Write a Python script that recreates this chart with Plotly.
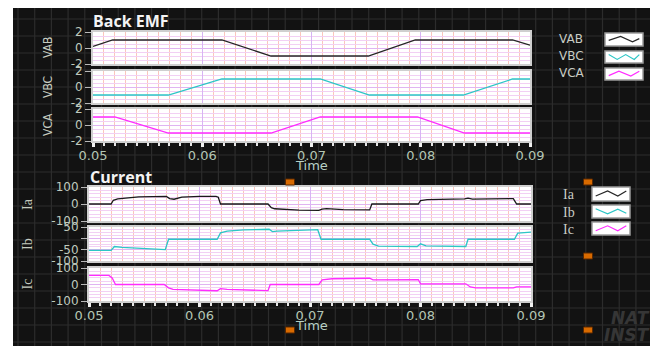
import plotly.graph_objects as go

W, H = 658, 346

# ---------------- data ----------------
t_vab = [0.05, 0.0518, 0.0618, 0.0663, 0.0752, 0.0795, 0.0884, 0.09]
v_vab = [0.2, 1, 1, -1, -1, 1, 1, 0.35]

t_vbc = [0.05, 0.0569, 0.0618, 0.0708, 0.0753, 0.0839, 0.0884, 0.09]
v_vbc = [-1, -1, 1, 1, -1, -1, 1, 1]

t_vca = [0.05, 0.0520, 0.0569, 0.0663, 0.0708, 0.0797, 0.0840, 0.09]
v_vca = [1, 1, -1, -1, 1, 1, -1, -1]

t_ia = [0.05, 0.0520, 0.0522, 0.0526, 0.0545, 0.0565, 0.0570, 0.0573, 0.0577, 0.0584,
        0.0600, 0.0615, 0.0617, 0.0619, 0.0662, 0.0665, 0.0668, 0.0690, 0.0708, 0.0711,
        0.0715, 0.0730, 0.0754, 0.0756, 0.0798, 0.0800, 0.0806, 0.0840, 0.0843, 0.0847,
        0.0884, 0.0887, 0.09]
v_ia = [0, 0, 22, 30, 42, 46, 45, 32, 28, 40,
        45, 45, 40, 0, 0, -22, -28, -36, -38, -30,
        -27, -33, -35, 0, 0, 20, 26, 30, 34, 29,
        32, 0, 0]

t_ib = [0.05, 0.0520, 0.0523, 0.0530, 0.0569, 0.0572, 0.0616, 0.0619, 0.0625, 0.0640,
        0.0663, 0.0666, 0.0670, 0.0690, 0.0707, 0.0710, 0.0754, 0.0757, 0.0762, 0.0797,
        0.0800, 0.0805, 0.0841, 0.0843, 0.0885, 0.0888, 0.09]
v_ib = [-53, -53, -36, -40, -50, -4, -4, 24, 32, 37,
        40, 30, 32, 36, 38, -4, -4, -26, -34, -36,
        -24, -33, -36, -4, -4, 23, 27]

t_ic = [0.05, 0.0518, 0.0521, 0.0524, 0.0568, 0.0572, 0.0576, 0.0600, 0.0616, 0.0619,
        0.0625, 0.0662, 0.0664, 0.0708, 0.0711, 0.0720, 0.0754, 0.0757, 0.0798, 0.0800,
        0.0841, 0.0845, 0.0850, 0.0884, 0.0887, 0.09]
v_ic = [55, 55, 40, 0, 0, -20, -30, -37, -38, -25,
        -30, -37, 0, 0, 28, 35, 38, 28, 30, 4,
        4, -15, -20, -21, -14, -14]

x_ticks = [0.05, 0.06, 0.07, 0.08, 0.09]
x_tick_text = ["0.05", "0.06", "0.07", "0.08", "0.09"]

# ---------------- helpers ----------------
# the page body adds an 8px offset, so map reference pixels onto the figure shifted by 8
OFF = 8

def fx(p):
    return (p - OFF) / W

def fy(p):
    return 1 - (p - OFF) / H

TICK_COL = "#bfc9bd"
fig = go.Figure()

# background (dark panel with grid)
shapes = [dict(type="rect", xref="paper", yref="paper", x0=fx(13), x1=fx(653), y0=fy(360), y1=fy(7),
               fillcolor="#121212", line=dict(width=0), layer="below")]
x = 18.0
while x < 653:
    shapes.append(dict(type="line", xref="paper", yref="paper", x0=fx(x), x1=fx(x), y0=fy(360), y1=fy(7),
                       line=dict(color="#2c2c2c", width=1.2), layer="below"))
    x += 16.7
y = 19.0
while y < 360:
    shapes.append(dict(type="line", xref="paper", yref="paper", x0=fx(13), x1=fx(653), y0=fy(y), y1=fy(y),
                       line=dict(color="#2c2c2c", width=1.2), layer="below"))
    y += 17.0

panels = [
    # t, v, color, xdom px, ydom px, yrange, tickvals, ticktext, minor dtick, ytitle, title x, title font
    (t_vab, v_vab, "#262626", (93, 530), (32, 64), [-2, 2], [-2, 0, 2], ["-2", "0", "2"], 0.5, "VAB", 48, "DejaVu Sans Condensed", 12),
    (t_vbc, v_vbc, "#2cc6c6", (93, 530), (71, 103), [-2, 2], [-2, 0, 2], ["-2", "0", "2"], 0.5, "VBC", 48, "DejaVu Sans Condensed", 12),
    (t_vca, v_vca, "#ff2cff", (93, 530), (109, 141), [-2, 2], [-2, 0, 2], ["-2", "0", "2"], 0.5, "VCA", 48, "DejaVu Sans Condensed", 12),
    (t_ia, v_ia, "#1a1a1a", (89, 531), (187, 221), [-100, 100], [-100, 0, 100], ["-100", "0", "100"], 20, "Ia", 27, "Liberation Serif", 14),
    (t_ib, v_ib, "#2cc6c6", (89, 531), (227, 261), [-100, 50], [-100, -50, 0, 50], ["-100", "-50", "", "50"], 12.5, "Ib", 27, "Liberation Serif", 14),
    (t_ic, v_ic, "#ff2cff", (89, 531), (268, 301), [-100, 100], [-100, 0, 100], ["-100", "0", "100"], 20, "Ic", 27, "Liberation Serif", 14),
]

annotations = []
for i, (t, v, col, xd, yd, yr, tv, tt, mdt, ytitle, tx, tfont, tsize) in enumerate(panels, start=1):
    xs = "" if i == 1 else str(i)
    # white plot area
    shapes.append(dict(type="rect", xref="paper", yref="paper", x0=fx(xd[0]), x1=fx(xd[1]),
                       y0=fy(yd[1]), y1=fy(yd[0]), fillcolor="white", line=dict(width=0), layer="below"))
    fig.add_trace(go.Scatter(x=t, y=v, mode="lines", line=dict(color=col, width=1.3),
                             xaxis="x" + xs, yaxis="y" + xs, showlegend=False, hoverinfo="skip"))
    bottom = i in (3, 6)
    xa = dict(domain=[fx(xd[0]), fx(xd[1])], anchor="y" + xs, range=[0.05, 0.09],
              automargin=False,
              tickvals=x_ticks, ticktext=x_tick_text, showticklabels=bottom,
              ticks="outside" if bottom else "", ticklen=4, tickwidth=3, tickcolor="#f0f0f0",
              ticklabelstandoff=-3,
              tickfont=dict(family="DejaVu Sans", size=13, color="#b4c6b4"),
              showgrid=True, gridcolor="#d7b4f4", gridwidth=1.2, zeroline=False,
              showline=True, mirror=True, linecolor="#cfcfcf", linewidth=2,
              minor=dict(dtick=0.001, tick0=0.05, showgrid=True, gridcolor="#fbc6bd", gridwidth=1.2,
                         ticks="outside" if bottom else "", ticklen=3, tickwidth=2, tickcolor="#e6e6e6"),
              fixedrange=True)
    ya = dict(domain=[fy(yd[1]), fy(yd[0])], anchor="x" + xs, range=yr,
              automargin=False,
              tickvals=tv, ticktext=tt, ticks="outside", ticklen=6, tickwidth=1.2, tickcolor="#b8b8b8",
              tickfont=dict(family="DejaVu Sans", size=12, color=TICK_COL),
              showgrid=True, gridcolor="#e0b4f2", gridwidth=1, zeroline=False,
              showline=True, mirror=True, linecolor="#cfcfcf", linewidth=2,
              minor=dict(dtick=mdt, tick0=0, showgrid=True, gridcolor="#f2d0f4", gridwidth=1),
              fixedrange=True)
    fig.update_layout(**{"xaxis" + xs: xa, "yaxis" + xs: ya})
    annotations.append(dict(xref="paper", yref="paper", x=fx(tx), y=fy((yd[0] + yd[1]) / 2),
                            text=ytitle, showarrow=False, textangle=-90,
                            font=dict(family=tfont, size=tsize, color="#c6ccc0"),
                            xanchor="center", yanchor="middle"))

# titles
annotations.append(dict(xref="paper", yref="paper", x=fx(91), y=fy(21), text="<b>Back EMF</b>",
                        showarrow=False, xanchor="left", yanchor="middle",
                        font=dict(family="Open Sans", size=16, color="#f4f4f4")))
annotations.append(dict(xref="paper", yref="paper", x=fx(88), y=fy(177), text="<b>Current</b>",
                        showarrow=False, xanchor="left", yanchor="middle",
                        font=dict(family="Open Sans", size=16, color="#f4f4f4")))
for ty in (165, 325):
    annotations.append(dict(xref="paper", yref="paper", x=fx(311), y=fy(ty), text="Time",
                            showarrow=False, xanchor="center", yanchor="middle",
                            font=dict(family="DejaVu Sans", size=13, color="#b8d0c6")))

# legends
leg_top = [("VAB", "#262626", 39, (33, 46), [(0.05, 0.4), (0.4, 0.85), (0.75, 0.25), (0.95, 0.6)]),
           ("VBC", "#2cc6c6", 56, (51, 63), [(0.05, 0.8), (0.3, 0.2), (0.55, 0.8), (0.8, 0.2), (0.95, 0.8)]),
           ("VCA", "#ff2cff", 73, (68, 80), [(0.05, 0.3), (0.35, 0.85), (0.7, 0.25), (0.95, 0.85)])]
leg_bot = [("Ia", "#262626", 194, (187, 201), [(0.05, 0.3), (0.4, 0.8), (0.7, 0.3), (0.95, 0.8)]),
           ("Ib", "#2cc6c6", 212, (205, 218), [(0.05, 0.8), (0.4, 0.25), (0.7, 0.75), (0.95, 0.3)]),
           ("Ic", "#ff2cff", 229, (222, 235), [(0.05, 0.25), (0.4, 0.8), (0.7, 0.25), (0.95, 0.8)])]


def add_legend(items, lx, bx0, bx1, font, size):
    for name, col, ly, (by0, by1), pts in items:
        annotations.append(dict(xref="paper", yref="paper", x=fx(lx), y=fy(ly), text=name,
                                showarrow=False, xanchor="left", yanchor="middle",
                                font=dict(family=font, size=size, color="#c8ccc4")))
        shapes.append(dict(type="rect", xref="paper", yref="paper", x0=fx(bx0), x1=fx(bx1),
                           y0=fy(by1), y1=fy(by0), fillcolor="white",
                           line=dict(color="#9a9a9a", width=1.5)))
        path = ""
        for k, (px_, py_) in enumerate(pts):
            xx = fx(bx0 + 2 + px_ * (bx1 - bx0 - 4))
            yy = fy(by1 - 2 - py_ * (by1 - by0 - 4))
            path += ("M" if k == 0 else "L") + f"{xx:.5f},{yy:.5f} "
        shapes.append(dict(type="path", xref="paper", yref="paper", path=path,
                           line=dict(color=col, width=1.2)))


add_legend(leg_top, 557, 605, 643, "DejaVu Sans", 12)
add_legend(leg_bot, 561, 592, 630, "Liberation Serif", 14)

# orange markers
for (ox, oy) in [(290, 182), (588, 182), (588, 256), (290, 330), (588, 330)]:
    shapes.append(dict(type="rect", xref="paper", yref="paper", x0=fx(ox - 4.5), x1=fx(ox + 4.5),
                       y0=fy(oy + 3), y1=fy(oy - 3), fillcolor="#d86a00",
                       line=dict(color="#5a2800", width=1)))

# faint watermark
annotations.append(dict(xref="paper", yref="paper", x=fx(652), y=fy(318), text="<b><i>NAT</i></b>",
                        showarrow=False, xanchor="right", yanchor="middle",
                        font=dict(family="DejaVu Sans", size=17, color="#363636")))
annotations.append(dict(xref="paper", yref="paper", x=fx(652), y=fy(335), text="<b><i>INST</i></b>",
                        showarrow=False, xanchor="right", yanchor="middle",
                        font=dict(family="DejaVu Sans", size=17, color="#363636")))

fig.update_layout(width=W, height=H, margin=dict(l=0, r=0, t=0, b=0, autoexpand=False),
                  template="none",
                  paper_bgcolor="white", plot_bgcolor="rgba(0,0,0,0)",
                  shapes=shapes, annotations=annotations, showlegend=False)

fig.write_html("out.html")
